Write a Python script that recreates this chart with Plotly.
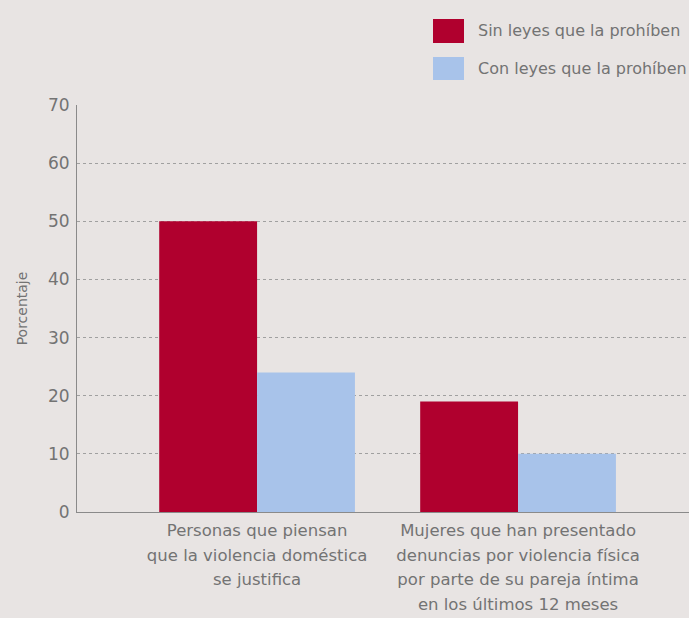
import plotly.graph_objects as go

cat_lines = [
    ["Personas que piensan", "que la violencia doméstica", "se justifica"],
    ["Mujeres que han presentado", "denuncias por violencia física",
     "por parte de su pareja íntima", "en los últimos 12 meses"],
]
sin_leyes = [50, 19]
con_leyes = [24, 10]
series_names = ["Sin leyes que la prohíben", "Con leyes que la prohíben"]
y_ticks = [0, 10, 20, 30, 40, 50, 60, 70]

RED = "#b0002e"
BLUE = "#a8c3ea"
BG = "#e8e4e3"
TXT = "#737373"
FONT = "DejaVu Sans, Liberation Sans, Arial, sans-serif"

categories = ["<br>".join(f"<span style='font-size:16.5px'>{ln}</span>" for ln in lines)
              for lines in cat_lines]

fig = go.Figure()
fig.add_trace(go.Bar(x=[0, 1], y=sin_leyes, name=series_names[0], marker=dict(color=RED, line=dict(width=0))))
fig.add_trace(go.Bar(x=[0, 1], y=con_leyes, name=series_names[1], marker=dict(color=BLUE, line=dict(width=0))))

L, R, T, B = 77, 0, 105, 106
W, H = 689 - L - R, 618 - T - B
def px(xp):
    return (xp - L) / W
def py(yp):
    return (618 - B - yp) / H

legend_rows = [(19, 43, RED), (57, 80, BLUE)]
for (y0, y1, col), name in zip(legend_rows, series_names):
    fig.add_shape(type="rect", xref="paper", yref="paper",
                  x0=px(433), x1=px(464), y0=py(y1), y1=py(y0),
                  fillcolor=col, line=dict(width=0))
    fig.add_annotation(xref="paper", yref="paper", x=px(476), y=py((y0 + y1) / 2),
                       text=name, showarrow=False, xanchor="left", yanchor="middle",
                       font=dict(size=16, color=TXT, family=FONT))

fig.update_layout(
    width=689, height=618,
    margin=dict(l=L, r=R, t=T, b=B),
    paper_bgcolor=BG, plot_bgcolor=BG,
    barmode="group", bargap=0.25, bargroupgap=0,
    showlegend=False,
    font=dict(family=FONT, color=TXT, size=14),
)
fig.update_xaxes(
    range=[-0.690, 1.655],
    tickmode="array", tickvals=[0, 1], ticktext=categories,
    showgrid=False, zeroline=False,
    showline=True, linecolor="#8a8a8a", linewidth=1,
    ticks="", ticklabelstandoff=0,
    tickfont=dict(size=19, color=TXT, family=FONT),
)
fig.update_yaxes(
    range=[0, 70], tickmode="array", tickvals=y_ticks,
    showgrid=True, gridcolor="#a0a0a0", griddash="dot", gridwidth=1,
    zeroline=False, showline=True, linecolor="#8a8a8a", linewidth=1,
    ticks="", ticklabelstandoff=3,
    tickfont=dict(size=17, color=TXT, family=FONT),
    title=dict(text="Porcentaje", font=dict(size=14, color=TXT, family=FONT), standoff=17),
)

fig.write_html("out.html", config={"displayModeBar": False},
               post_script="document.body.style.margin='0';")
